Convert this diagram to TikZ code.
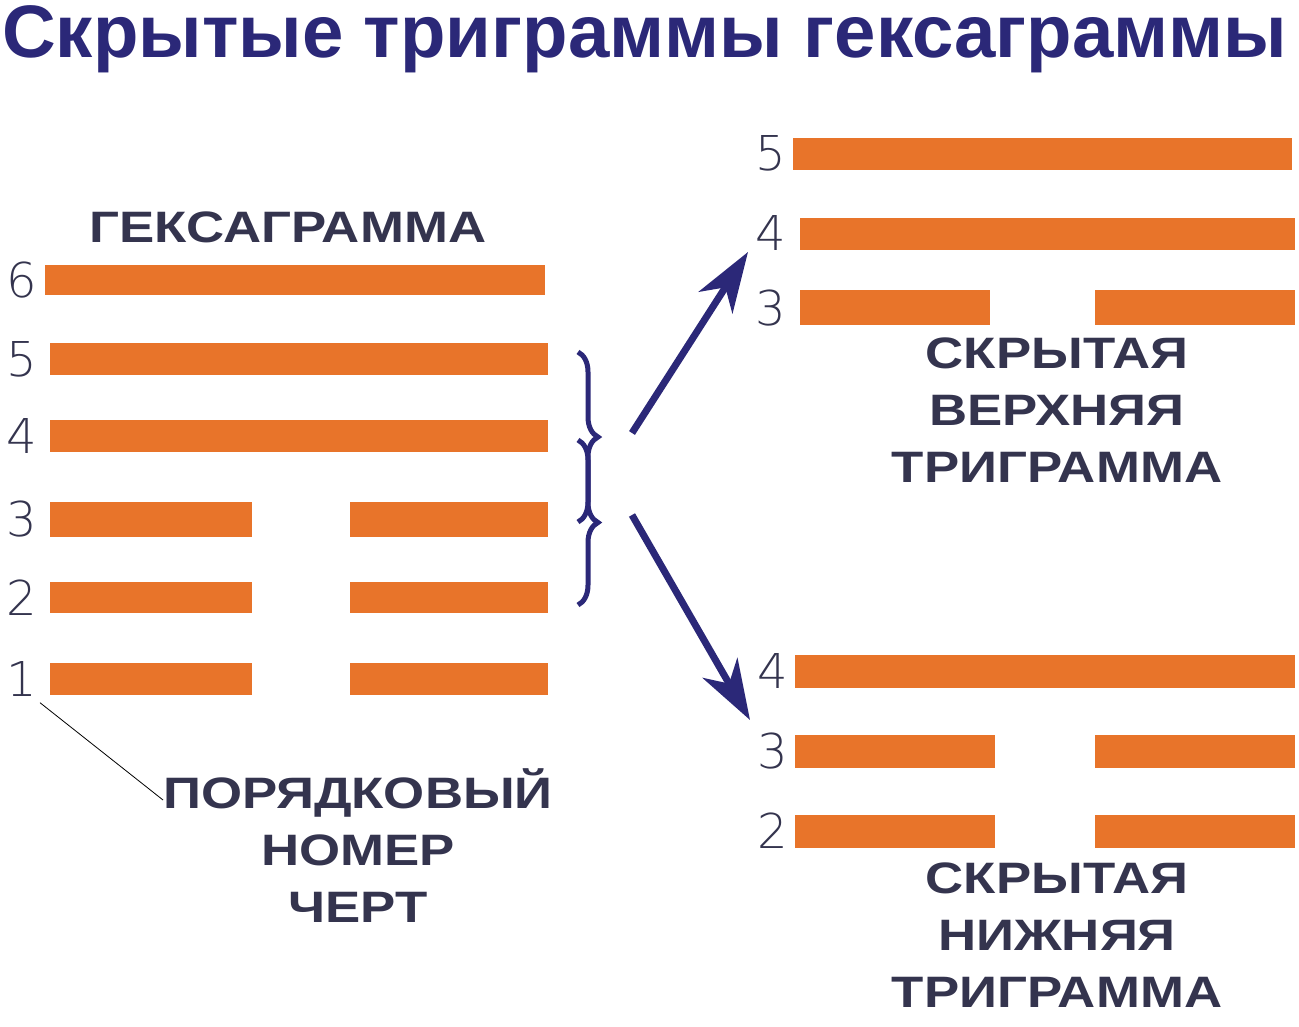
\documentclass[tikz,border=0pt]{standalone}
\usepackage{fontspec}
\setmainfont{Liberation Sans}
\newfontfamily\thin{DejaVu Sans ExtraLight}
\usetikzlibrary{decorations.pathreplacing,arrows.meta}
\definecolor{bar}{HTML}{E8742A}
\definecolor{navy}{HTML}{2B2878}
\definecolor{lbl}{HTML}{34344E}
\newcommand{\wl}[1]{\scalebox{1.2}[1]{#1}}
\begin{document}
\begin{tikzpicture}[x=1pt,y=-1pt,
  barst/.style={fill=bar,draw=none},
  num/.style={font=\thin\fontsize{48}{48}\selectfont,text=lbl,inner sep=0},
  lab/.style={font=\bfseries\fontsize{44}{57}\selectfont,text=lbl,align=center,inner sep=0},
  arr/.style={navy,line width=7pt,-{Stealth[length=60pt,width=40pt,inset=18pt]}}]
\useasboundingbox (0,0) rectangle (1299,1027);
\node[font=\bfseries\fontsize{62}{62}\selectfont,text=navy,anchor=base west,inner sep=0] (title) at (2,58) {\resizebox{1285pt}{!}{Скрытые триграммы гексаграммы}};
% left hexagram
\node[lab,anchor=base] (hex) at (288,243) {\wl{ГЕКСАГРАММА}};
\fill[barst] (45,265) rectangle (545,295);
\fill[barst] (50,343) rectangle (548,375);
\fill[barst] (50,420) rectangle (548,452);
\fill[barst] (50,502) rectangle (252,537); \fill[barst] (350,502) rectangle (548,537);
\fill[barst] (50,582) rectangle (252,613); \fill[barst] (350,582) rectangle (548,613);
\fill[barst] (50,663) rectangle (252,695); \fill[barst] (350,663) rectangle (548,695);
\node[num] (n6) at (22,280) {6};
\node[num] (n5) at (22,359) {5};
\node[num] (n4) at (22,436) {4};
\node[num] (n3) at (22,519) {3};
\node[num] (n2) at (22,598) {2};
\node[num] (n1) at (22,679) {1};
% braces
\draw[navy,line width=5pt,decorate,decoration={brace,amplitude=20pt}] (578,352) -- (578,522);
\draw[navy,line width=5pt,decorate,decoration={brace,amplitude=20pt}] (578,440) -- (578,605);
\coordinate (b1) at (632,433);
\coordinate (b2) at (632,515);
\coordinate (t1) at (748,252);
\coordinate (t2) at (750,720);
\draw[arr] (b1) -- (t1);
\draw[arr] (b2) -- (t2);
% right top
\fill[barst] (793,138) rectangle (1292,170);
\fill[barst] (800,218) rectangle (1295,250);
\fill[barst] (800,290) rectangle (990,325); \fill[barst] (1095,290) rectangle (1295,325);
\node[num] (u5) at (771,153) {5};
\node[num] (u4) at (771,233) {4};
\node[num] (u3) at (771,308) {3};
\node[lab,anchor=north] (up) at (1057,338) {\wl{СКРЫТАЯ}\\\wl{ВЕРХНЯЯ}\\\wl{ТРИГРАММА}};
% right bottom
\fill[barst] (795,655) rectangle (1295,688);
\fill[barst] (795,735) rectangle (995,768); \fill[barst] (1095,735) rectangle (1295,768);
\fill[barst] (795,815) rectangle (995,848); \fill[barst] (1095,815) rectangle (1295,848);
\node[num] (d4) at (773,671) {4};
\node[num] (d3) at (773,751) {3};
\node[num] (d2) at (773,831) {2};
\node[lab,anchor=north] (low) at (1057,863) {\wl{СКРЫТАЯ}\\\wl{НИЖНЯЯ}\\\wl{ТРИГРАММА}};
% legend
\node[lab,anchor=north] (ord) at (358,768) {\wl{ПОРЯДКОВЫЙ}\\\wl{НОМЕР}\\\wl{ЧЕРТ}};
\draw[black,line width=0.8pt] (n1.south) ++(18,6) -- (ord.north west|-0,800);
\end{tikzpicture}
\end{document}
